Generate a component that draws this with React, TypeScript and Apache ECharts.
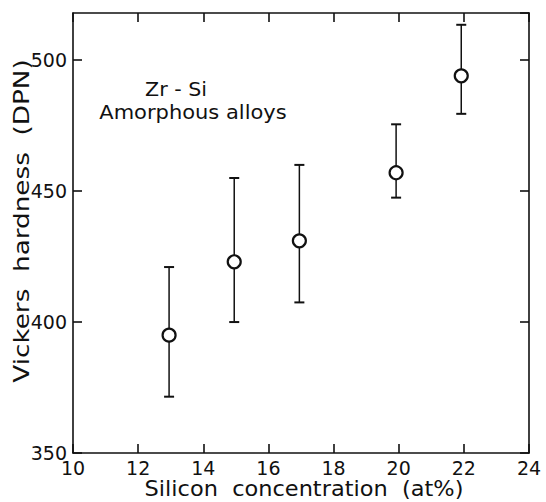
import React, { useEffect, useRef } from "react";
import * as echarts from "echarts";

const siliconAt = [12.95, 14.95, 16.95, 19.92, 21.92];
const hardness = [395, 423, 431, 457, 494];
const hardnessLow = [371.5, 400, 407.5, 447.5, 479.5];
const hardnessHigh = [421, 455, 460, 475.5, 513.5];
const xTicks = { min: 10, max: 24, interval: 2 };
const yTicks = { min: 350, max: 518, interval: 50 };
const annotation = ["Zr - Si", "Amorphous alloys"];
const xTitle = "Silicon  concentration  (at%)";
const yTitle = "Vickers  hardness  (DPN)";

const FONT = "DejaVu Sans";

export default function App() {
  const ref = useRef<HTMLDivElement>(null);
  useEffect(() => {
    document.body.style.margin = "0";
    if (!ref.current) return;
    const chart = echarts.init(ref.current, null, { renderer: "svg" });
    const axisLine = { show: true, lineStyle: { color: "#111", width: 1.6 } };
    const tickIn = { show: true, inside: true, length: 9, lineStyle: { color: "#111", width: 1.6 } };
    const labelStyle = { color: "#111", fontFamily: FONT, fontSize: 19 };
    const points = siliconAt.map((x, i) => [x, hardness[i]]);
    const bars = siliconAt.map((x, i) => [x, hardnessLow[i], hardnessHigh[i]]);
    chart.setOption({
      animation: false,
      backgroundColor: "#fff",
      grid: { left: 73, right: 17, top: 13, bottom: 49, containLabel: false },
      xAxis: [
        {
          type: "value", position: "bottom", ...xTicks,
          axisLine, axisTick: tickIn, splitLine: { show: false },
          axisLabel: { ...labelStyle, margin: 5 },
        },
        {
          type: "value", position: "top", ...xTicks,
          axisLine, axisTick: tickIn, splitLine: { show: false },
          axisLabel: { show: false },
        },
      ],
      yAxis: [
        {
          type: "value", position: "left", ...yTicks,
          axisLine, axisTick: tickIn, splitLine: { show: false },
          axisLabel: { ...labelStyle, margin: 6, showMaxLabel: false },
        },
        {
          type: "value", position: "right", ...yTicks,
          axisLine, axisTick: tickIn, splitLine: { show: false },
          axisLabel: { show: false },
        },
      ],
      series: [
        {
          type: "custom",
          xAxisIndex: 0,
          yAxisIndex: 0,
          data: bars,
          renderItem: (params: any, api: any) => {
            const x = api.value(0);
            const lo = api.coord([x, api.value(1)]);
            const hi = api.coord([x, api.value(2)]);
            const cap = 5;
            const st = { stroke: "#111", lineWidth: 1.5 };
            return {
              type: "group",
              children: [
                { type: "line", shape: { x1: lo[0], y1: lo[1], x2: hi[0], y2: hi[1] }, style: st },
                { type: "line", shape: { x1: lo[0] - cap, y1: lo[1], x2: lo[0] + cap, y2: lo[1] }, style: { ...st, lineWidth: 2 } },
                { type: "line", shape: { x1: hi[0] - cap, y1: hi[1], x2: hi[0] + cap, y2: hi[1] }, style: { ...st, lineWidth: 2 } },
              ],
            };
          },
          z: 2,
        },
        {
          type: "scatter",
          xAxisIndex: 0,
          yAxisIndex: 0,
          data: points,
          symbol: "circle",
          symbolSize: 13,
          itemStyle: { color: "#fff", borderColor: "#111", borderWidth: 2.2, opacity: 1 },
          z: 5,
        },
      ],
      graphic: [
        {
          type: "text", x: 176, y: 89, scaleX: 1.03,
          style: { text: annotation[0], font: `20px '${FONT}'`, fill: "#111", align: "center", verticalAlign: "middle" },
        },
        {
          type: "text", x: 193, y: 112, scaleX: 1.05,
          style: { text: annotation[1], font: `20px '${FONT}'`, fill: "#111", align: "center", verticalAlign: "middle" },
        },
        {
          type: "text", x: 304, y: 489, scaleX: 1.07,
          style: { text: xTitle, font: `21px '${FONT}'`, fill: "#111", align: "center", verticalAlign: "middle" },
        },
        {
          type: "text", x: 22, y: 221, rotation: Math.PI / 2, scaleX: 1.25,
          style: { text: yTitle, font: `21px '${FONT}'`, fill: "#111", align: "center", verticalAlign: "middle" },
        },
      ],
    });
    return () => chart.dispose();
  }, []);
  return <div ref={ref} style={{ width: 546, height: 502 }} />;
}
